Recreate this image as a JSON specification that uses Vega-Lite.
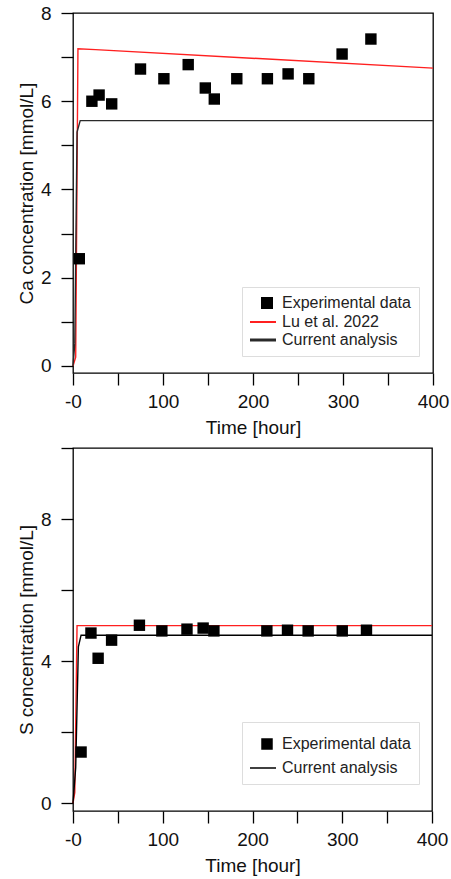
{
  "$schema": "https://vega.github.io/schema/vega-lite/v6.json",
  "padding": {"left": 16, "top": 3, "right": 0, "bottom": 0},
  "spacing": 8,
  "datasets": {
    "ca_exp": [
      {"t": 7, "c": 2.43, "series": "Experimental data"},
      {"t": 21, "c": 6.0, "series": "Experimental data"},
      {"t": 29, "c": 6.14, "series": "Experimental data"},
      {"t": 43, "c": 5.94, "series": "Experimental data"},
      {"t": 75, "c": 6.73, "series": "Experimental data"},
      {"t": 101, "c": 6.51, "series": "Experimental data"},
      {"t": 128, "c": 6.83, "series": "Experimental data"},
      {"t": 147, "c": 6.3, "series": "Experimental data"},
      {"t": 157, "c": 6.05, "series": "Experimental data"},
      {"t": 182, "c": 6.51, "series": "Experimental data"},
      {"t": 216, "c": 6.51, "series": "Experimental data"},
      {"t": 239, "c": 6.62, "series": "Experimental data"},
      {"t": 262, "c": 6.51, "series": "Experimental data"},
      {"t": 299, "c": 7.07, "series": "Experimental data"},
      {"t": 331, "c": 7.41, "series": "Experimental data"}
    ],
    "ca_model": [
      {"t": 0, "c": 0, "series": "Lu et al. 2022"},
      {"t": 3, "c": 0.2, "series": "Lu et al. 2022"},
      {"t": 5.5, "c": 7.19, "series": "Lu et al. 2022"},
      {"t": 25, "c": 7.17, "series": "Lu et al. 2022"},
      {"t": 400, "c": 6.75, "series": "Lu et al. 2022"},
      {"t": 0, "c": 0, "series": "Current analysis"},
      {"t": 2, "c": 0.5, "series": "Current analysis"},
      {"t": 4.5, "c": 5.3, "series": "Current analysis"},
      {"t": 8, "c": 5.56, "series": "Current analysis"},
      {"t": 400, "c": 5.56, "series": "Current analysis"}
    ],
    "s_exp": [
      {"t": 9, "c": 1.44, "series": "Experimental data"},
      {"t": 20, "c": 4.79, "series": "Experimental data"},
      {"t": 28, "c": 4.08, "series": "Experimental data"},
      {"t": 43, "c": 4.59, "series": "Experimental data"},
      {"t": 74, "c": 5.01, "series": "Experimental data"},
      {"t": 99, "c": 4.85, "series": "Experimental data"},
      {"t": 127, "c": 4.9, "series": "Experimental data"},
      {"t": 145, "c": 4.93, "series": "Experimental data"},
      {"t": 157, "c": 4.85, "series": "Experimental data"},
      {"t": 216, "c": 4.85, "series": "Experimental data"},
      {"t": 239, "c": 4.87, "series": "Experimental data"},
      {"t": 262, "c": 4.85, "series": "Experimental data"},
      {"t": 300, "c": 4.85, "series": "Experimental data"},
      {"t": 327, "c": 4.87, "series": "Experimental data"}
    ],
    "s_model": [
      {"t": 0, "c": 0, "series": "Lu et al. 2022"},
      {"t": 2, "c": 0.3, "series": "Lu et al. 2022"},
      {"t": 4.5, "c": 5.0, "series": "Lu et al. 2022"},
      {"t": 400, "c": 5.0, "series": "Lu et al. 2022"},
      {"t": 0, "c": 0, "series": "Current analysis"},
      {"t": 3, "c": 1.0, "series": "Current analysis"},
      {"t": 6, "c": 4.4, "series": "Current analysis"},
      {"t": 9, "c": 4.73, "series": "Current analysis"},
      {"t": 400, "c": 4.73, "series": "Current analysis"}
    ]
  },
  "resolve": {"scale": {"color": "independent"}, "legend": {"color": "independent"}},
  "vconcat": [
    {
      "width": 360,
      "height": 360,
      "encoding": {
        "x": {"field": "t", "type": "quantitative", "scale": {"domain": [0, 400], "nice": false, "zero": false},
          "axis": {"title": "Time [hour]", "values": [0, 50, 100, 150, 200, 250, 300, 350, 400],
            "labelExpr": "datum.value % 100 !== 0 ? '' : (datum.value === 0 ? '-0' : datum.label)",
            "tickSize": 12, "labelPadding": 7, "titlePadding": 7, "labelFlush": false,
            "encode": {"ticks": {"update": {"y2": {"signal": "datum.value % 100 === 0 ? 12 : 6"}}}}}},
        "y": {"field": "c", "type": "quantitative", "scale": {"domain": [-0.16, 8], "nice": false, "zero": false},
          "axis": {"title": "Ca concentration [mmol/L]", "values": [0, 1, 2, 3, 4, 5, 6, 7, 8],
            "labelExpr": "datum.value % 2 === 0 ? datum.label : ''",
            "labelPadding": 10, "tickSize": 12, "labelFlush": false,
            "encode": {"ticks": {"update": {"x2": {"signal": "datum.value % 2 === 0 ? -12 : -6"}}}}}}
      },
      "layer": [
        {
          "data": {"name": "ca_model"},
          "mark": {"type": "line", "strokeWidth": 1.4},
          "encoding": {
            "color": {"field": "series", "type": "nominal",
              "scale": {"domain": ["Experimental data", "Lu et al. 2022", "Current analysis"], "range": ["black", "#ff2020", "#2a2a2a"]},
              "legend": {
                "title": null, "orient": "none", "legendX": 169, "legendY": 274,
                "encode": {
                  "symbols": {"update": {
                    "x": {"signal": "datum.value === 'Experimental data' ? 17 : 13"},
                    "shape": {"signal": "datum.value === 'Experimental data' ? 'square' : 'stroke'"},
                    "size": {"signal": "datum.value === 'Experimental data' ? 100 : 676"},
                    "fill": {"signal": "datum.value === 'Experimental data' ? 'black' : 'transparent'"},
                    "stroke": {"signal": "datum.value === 'Lu et al. 2022' ? '#ff2a2a' : (datum.value === 'Current analysis' ? '#555555' : 'transparent')"},
                    "strokeWidth": {"signal": "datum.value === 'Current analysis' ? 3 : 2"},
                    "opacity": {"value": 1}
                  }},
                  "labels": {"update": {"x": {"value": 32}, "fontSize": {"value": 16}, "fill": {"value": "#222222"}}}
                }
              }}
          }
        },
        {
          "data": {"name": "ca_exp"},
          "mark": {"type": "point", "shape": "square", "filled": true, "size": 130, "opacity": 1},
          "encoding": {
            "color": {"field": "series", "type": "nominal",
              "scale": {"domain": ["Experimental data", "Lu et al. 2022", "Current analysis"], "range": ["black", "#ff2020", "#2a2a2a"]},
              "legend": {
                "title": null, "orient": "none", "legendX": 169, "legendY": 274,
                "encode": {
                  "symbols": {"update": {
                    "x": {"signal": "datum.value === 'Experimental data' ? 17 : 13"},
                    "shape": {"signal": "datum.value === 'Experimental data' ? 'square' : 'stroke'"},
                    "size": {"signal": "datum.value === 'Experimental data' ? 100 : 676"},
                    "fill": {"signal": "datum.value === 'Experimental data' ? 'black' : 'transparent'"},
                    "stroke": {"signal": "datum.value === 'Lu et al. 2022' ? '#ff2a2a' : (datum.value === 'Current analysis' ? '#555555' : 'transparent')"},
                    "strokeWidth": {"signal": "datum.value === 'Current analysis' ? 3 : 2"},
                    "opacity": {"value": 1}
                  }},
                  "labels": {"update": {"x": {"value": 32}, "fontSize": {"value": 16}, "fill": {"value": "#222222"}}}
                }
              }}
          }
        }
      ]
    },
    {
      "width": 359,
      "height": 363,
      "encoding": {
        "x": {"field": "t", "type": "quantitative", "scale": {"domain": [0, 400], "nice": false, "zero": false},
          "axis": {"title": "Time [hour]", "values": [0, 50, 100, 150, 200, 250, 300, 350, 400],
            "labelExpr": "datum.value % 100 !== 0 ? '' : (datum.value === 0 ? '-0' : datum.label)",
            "tickSize": 12, "labelPadding": 7, "titlePadding": 7, "labelFlush": false,
            "encode": {"ticks": {"update": {"y2": {"signal": "datum.value % 100 === 0 ? 12 : 6"}}}}}},
        "y": {"field": "c", "type": "quantitative", "scale": {"domain": [-0.22, 10], "nice": false, "zero": false},
          "axis": {"title": "S concentration [mmol/L]", "values": [0, 2, 4, 6, 8, 10],
            "labelExpr": "datum.value % 4 === 0 ? datum.label : ''",
            "labelPadding": 10, "tickSize": 12, "labelFlush": false,
            "encode": {"ticks": {"update": {"x2": {"signal": "datum.value % 4 === 0 ? -12 : -6"}}}}}}
      },
      "layer": [
        {
          "data": {"name": "s_model"},
          "mark": {"type": "line", "strokeWidth": 1.4},
          "encoding": {
            "color": {"field": "series", "type": "nominal",
              "scale": {"domain": ["Experimental data", "Current analysis", "Lu et al. 2022"], "range": ["black", "black", "#ff2020"]},
              "legend": {
                "title": null, "orient": "none", "legendX": 169, "legendY": 274,
                "values": ["Experimental data", "Current analysis"],
                "encode": {
                  "symbols": {"update": {
                    "x": {"signal": "datum.value === 'Experimental data' ? 17 : 13"},
                    "shape": {"signal": "datum.value === 'Experimental data' ? 'square' : 'stroke'"},
                    "size": {"signal": "datum.value === 'Experimental data' ? 100 : 676"},
                    "fill": {"signal": "datum.value === 'Experimental data' ? 'black' : 'transparent'"},
                    "stroke": {"signal": "datum.value === 'Current analysis' ? '#111111' : 'transparent'"},
                    "strokeWidth": {"signal": "1.5"},
                    "opacity": {"value": 1}
                  }},
                  "labels": {"update": {"x": {"value": 32}, "fontSize": {"value": 16}, "fill": {"value": "#222222"}}}
                }
              }}
          }
        },
        {
          "data": {"name": "s_exp"},
          "mark": {"type": "point", "shape": "square", "filled": true, "size": 130, "opacity": 1},
          "encoding": {
            "color": {"field": "series", "type": "nominal",
              "scale": {"domain": ["Experimental data", "Current analysis", "Lu et al. 2022"], "range": ["black", "black", "#ff2020"]},
              "legend": {
                "title": null, "orient": "none", "legendX": 169, "legendY": 274,
                "values": ["Experimental data", "Current analysis"],
                "encode": {
                  "symbols": {"update": {
                    "x": {"signal": "datum.value === 'Experimental data' ? 17 : 13"},
                    "shape": {"signal": "datum.value === 'Experimental data' ? 'square' : 'stroke'"},
                    "size": {"signal": "datum.value === 'Experimental data' ? 100 : 676"},
                    "fill": {"signal": "datum.value === 'Experimental data' ? 'black' : 'transparent'"},
                    "stroke": {"signal": "datum.value === 'Current analysis' ? '#111111' : 'transparent'"},
                    "strokeWidth": {"signal": "1.5"},
                    "opacity": {"value": 1}
                  }},
                  "labels": {"update": {"x": {"value": 32}, "fontSize": {"value": 16}, "fill": {"value": "#222222"}}}
                }
              }}
          }
        }
      ]
    }
  ],
  "config": {
    "font": "Liberation Sans",
    "view": {"stroke": "black", "strokeWidth": 1.3},
    "axis": {
      "labelFont": "Liberation Sans", "labelFontSize": 19, "labelColor": "#111",
      "titleFont": "Liberation Sans", "titleFontSize": 19, "titleFontWeight": "normal", "titleColor": "#111",
      "tickColor": "black", "tickWidth": 1.3, "grid": false, "domain": false
    },
    "legend": {
      "labelFont": "Liberation Sans", "labelFontSize": 16, "labelColor": "#222", "labelLimit": 300,
      "symbolSize": 676, "labelOffset": 7, "padding": 8, "rowPadding": 2,
      "strokeColor": "#dddddd", "fillColor": "white"
    }
  }
}
